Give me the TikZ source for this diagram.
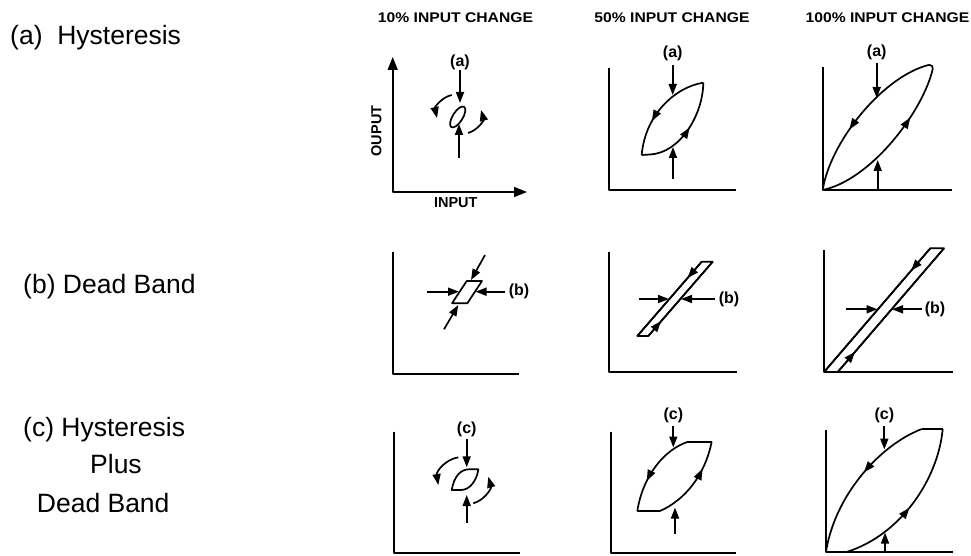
\documentclass[tikz,border=0pt]{standalone}
\usepackage{fontspec}
\setmainfont{Liberation Sans}
\usetikzlibrary{arrows.meta,decorations.markings}
\tikzset{
  ln/.style={line width=1.7pt, line join=round},
  tip/.style={-{Triangle[length=11pt,width=8pt]}},
  bigtip/.style={{Triangle[length=13pt,width=10pt]}-{Triangle[length=13pt,width=10pt]}},
  mk/.style={postaction={decorate,decoration={markings,
      mark=at position #1 with {\arrow{Triangle[length=11pt,width=8pt]}}}}},
  rowlab/.style={anchor=base west, inner sep=0pt, font=\fontsize{26.5}{30}\selectfont},
  title/.style={inner sep=0pt, font=\fontsize{14}{16}\selectfont\bfseries},
  axlab/.style={inner sep=0pt, font=\fontsize{14.5}{16}\selectfont\bfseries},
  small/.style={inner sep=0pt, font=\fontsize{16}{18}\selectfont\bfseries}
}
\begin{document}
\begin{tikzpicture}[x=1pt,y=1pt]
\useasboundingbox (0,0) rectangle (971,555);

% row labels
\node[rowlab] (la) at (10,510.5) {(a)\ \ Hysteresis};
\node[rowlab] (lb) at (23,261.7) {(b) Dead Band};
\node[rowlab] (lc1) at (23,119) {(c) Hysteresis};
\node[rowlab] (lc2) at (90,82) {Plus};
\node[rowlab] (lc3) at (36.7,43) {Dead Band};

% column titles
\node[title] (t1) at (455.5,537) {\scalebox{1.12}[1]{10\% INPUT CHANGE}};
\node[title] (t2) at (672,537) {\scalebox{1.12}[1]{50\% INPUT CHANGE}};
\node[title] (t3) at (887.5,537) {\scalebox{1.12}[1]{100\% INPUT CHANGE}};

% ---------- row (a), 10% ----------
\draw[ln,bigtip] (392.7,498) -- (392.7,363) -- (527,363);
\node[axlab,rotate=90] (ylab) at (376.3,424) {OUPUT};
\node[axlab] (xlab) at (455.8,352) {INPUT};
\node[small] (a1) at (460,493) {(a)};
\draw[ln,tip] (460,485) -- (460,452);
\draw[ln,rotate around={58:(457.7,438)}] (457.7,438) ellipse [x radius=12pt, y radius=5pt];
\draw[ln,tip] (459,397) -- (459,431);
\draw[ln,tip] (451.7,460) to[bend right=45] (437,437);
\draw[ln,tip] (468,422) to[bend right=45] (481,445);

% ---------- row (a), 50% ----------
\draw[ln] (609,487) -- (609,365) -- (735.7,365);
\node[small] (a2) at (672.7,502) {(a)};
\draw[ln,tip] (672.7,490) -- (672.7,460);
\draw[ln,mk=0.65] (703.3,472.3) .. controls (675,468) and (645,440) .. (641.7,400);
\draw[ln,mk=0.55] (641.7,400) -- (650,400.5) .. controls (680,402) and (703,440) .. (703.3,472.3);
\draw[ln,tip] (673,376) -- (673,408);

% ---------- row (a), 100% ----------
\draw[ln] (822.7,488) -- (822.7,365) -- (951.7,365);
\node[small] (a3) at (876.7,503) {(a)};
\draw[ln,tip] (876.7,492) -- (876.7,457);
\draw[ln,mk=0.7] (822.7,365) .. controls (870,375) and (920,440) .. (931.7,482);
\draw[ln] (931.7,482) .. controls (934,488) and (933,492) .. (925,489);
\draw[ln,mk=0.6] (925,489) .. controls (880,475) and (830,412) .. (822.7,365);
\draw[ln,tip] (877.7,365) -- (877.7,395);

% ---------- row (b), 10% ----------
\draw[ln] (393.3,303.3) -- (393.3,181) -- (519.3,181);
\draw[ln] (452,251.7) -- (466.7,274) -- (482,274) -- (467.3,251.7) -- cycle;
\draw[ln,tip] (485,300) -- (471,275);
\draw[ln,tip] (444,225.7) -- (458.3,250);
\draw[ln,tip] (427.3,263.3) -- (459,263.3);
\draw[ln,tip] (505,263.3) -- (475.5,263.3);
\node[small] (b1) at (519,263.3) {(b)};

% ---------- row (b), 50% ----------
\draw[ln] (609.3,303.3) -- (609.3,182.7) -- (736.7,182.7);
\draw[ln] (637.3,219) -- (701.7,293.3) -- (712.7,293.3) -- (648.3,219) -- cycle;
\draw[ln,mk=0.22] (701.7,293.3) -- (637.3,219);
\draw[ln,mk=0.2] (648.3,219) -- (712.7,293.3);
\draw[ln,tip] (639,256) -- (669,256);
\draw[ln,tip] (715,256) -- (681,256);
\node[small] (b2) at (729,256) {(b)};

% ---------- row (b), 100% ----------
\draw[ln] (824.3,305) -- (824.3,183.3) -- (952.7,183.3);
\draw[ln] (824.3,183.3) -- (930.3,306.7) -- (944,306.7) -- (838,183.3);
\draw[ln,mk=0.18] (930.3,306.7) -- (824.3,183.3);
\draw[ln,mk=0.16] (838,183.3) -- (944,306.7);
\draw[ln,tip] (846,245.7) -- (877.5,245.7);
\draw[ln,tip] (921.7,245.7) -- (892,245.7);
\node[small] (b3) at (935,245.7) {(b)};

% ---------- row (c), 10% ----------
\draw[ln] (394,123.3) -- (394,1.7) -- (520,1.7);
\node[small] (c1) at (466.7,125.7) {(c)};
\draw[ln,tip] (466.7,115.7) -- (466.7,87.7);
\draw[ln] (451.7,65) .. controls (454,79) and (461,85.7) .. (469,85.7) -- (478.3,85.7)
   .. controls (477,75) and (470,65) .. (461,65) -- cycle;
\draw[ln,tip] (466.7,31.7) -- (466.7,60);
\draw[ln,tip] (458.3,97.7) to[bend right=45] (438.3,70);
\draw[ln,tip] (473.3,51.7) to[bend right=45] (488.3,78.3);

% ---------- row (c), 50% ----------
\draw[ln] (610.7,123.3) -- (610.7,2.3) -- (736,2.3);
\node[small] (c2) at (673.3,140) {(c)};
\draw[ln,tip] (673.3,129.3) -- (673.3,107.5);
\draw[ln] (637.3,44) -- (660,44);
\draw[ln] (688.3,113.3) -- (711.7,113.3);
\draw[ln,mk=0.65] (688.3,113.3) .. controls (665,106) and (643,80) .. (637.3,44);
\draw[ln,mk=0.68] (660,44) .. controls (685,55) and (705,80) .. (711.7,113.3);
\draw[ln,tip] (675,21) -- (675,47.5);

% ---------- row (c), 100% ----------
\draw[ln] (826,125) -- (826,3.3) -- (952.7,3.3);
\node[small] (c3) at (884.3,140) {(c)};
\draw[ln,tip] (884.3,129) -- (884.3,105.5);
\draw[ln] (921.7,126) -- (942.7,126);
\draw[ln,mk=0.45] (921.7,126) .. controls (880,110) and (835,60) .. (826,3.3);
\draw[ln,mk=0.47] (847.3,3.3) .. controls (900,20) and (938,75) .. (942.7,126);
\draw[ln,tip] (885,3.3) -- (885,22.5);
\end{tikzpicture}
\end{document}
